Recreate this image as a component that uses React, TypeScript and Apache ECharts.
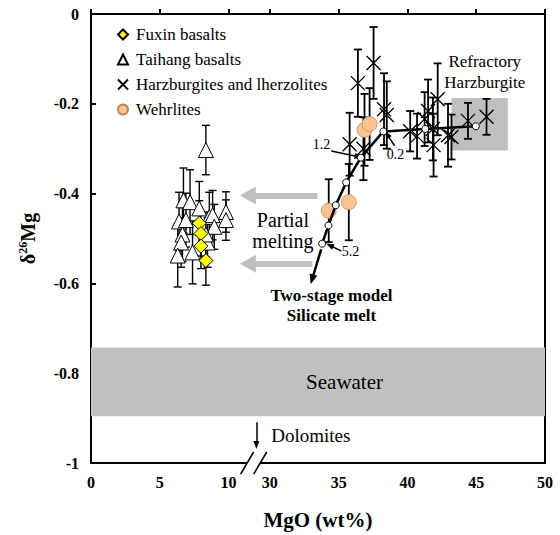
import React, { useEffect, useRef } from 'react';
import * as echarts from 'echarts';

// ---------- data ----------
const xTickLabels = [0, 5, 10, 30, 35, 40, 45, 50];
const yTicks = [0, -0.2, -0.4, -0.6, -0.8, -1];

const fuxinMgO = [7.87, 7.99, 7.99, 8.35];
const fuxinD26 = [-0.466, -0.489, -0.517, -0.549];
const fuxinErr = [0.05, 0.05, 0.05, 0.055];

const taihangMgO = [8.35, 6.72, 7.2, 6.4, 6.9, 6.65, 6.55, 6.3, 7.38, 7.87, 8.6, 8.84, 8.96, 8.47, 8.35, 9.81, 9.81];
const taihangD26 = [-0.303, -0.415, -0.419, -0.462, -0.459, -0.491, -0.509, -0.538, -0.531, -0.433, -0.452, -0.448, -0.474, -0.509, -0.491, -0.441, -0.459];
const taihangErr = [0.055, 0.072, 0.072, 0.065, 0.06, 0.06, 0.055, 0.07, 0.07, 0.06, 0.055, 0.055, 0.05, 0.055, 0.05, 0.045, 0.045];

const harzMgO = [37.54, 36.4, 38.3, 38.5, 35.8, 36.8, 40.2, 40.7, 41.5, 42.2, 41.25, 41.85, 41.9, 42.95, 43.2, 44.4, 45.75];
const harzD26 = [-0.109, -0.154, -0.212, -0.225, -0.29, -0.3, -0.261, -0.272, -0.216, -0.19, -0.234, -0.256, -0.292, -0.27, -0.274, -0.238, -0.229];
const harzErr = [0.08, 0.075, 0.08, 0.075, 0.07, 0.07, 0.045, 0.05, 0.07, 0.08, 0.06, 0.07, 0.07, 0.07, 0.05, 0.04, 0.04];

const wehrMgO = [34.28, 35.74, 36.88, 37.25];
const wehrD26 = [-0.438, -0.419, -0.258, -0.245];
const wehrErr = [0.07, 0.085, 0.08, 0.08];

const modelMgO = [33.8, 34.26, 34.79, 35.55, 36.61, 38.25, 41.3, 44.97];
const modelD26 = [-0.5115, -0.471, -0.426, -0.375, -0.32, -0.2615, -0.256, -0.25];

const seawaterRange = [-0.743, -0.896];
const refractoryMgO = [43.2, 47.3];
const refractoryD26 = [-0.187, -0.304];

// ---------- broken axis helpers ----------
const GAP = 17; // MgO 10..30 squeezed
const toAxis = (m: number) => (m > 20 ? m - GAP : m);
const toLabel = (u: number) => (u > 11.5 ? u + GAP : u);
const tickPos = xTickLabels.map(toAxis);

const FONT = 'Liberation Serif';

function errSeries(mgo: number[], d: number[], err: number[], lw: number) {
  return {
    type: 'custom',
    silent: true,
    z: 2,
    data: mgo.map((m, i) => [toAxis(m), d[i], err[i]]),
    encode: { x: 0, y: 1 },
    renderItem: (params: any, api: any) => {
      const x = api.value(0), y = api.value(1), e = api.value(2);
      const t = api.coord([x, y + e]);
      const b = api.coord([x, y - e]);
      const c = 4;
      const st = { stroke: '#000', lineWidth: lw };
      return {
        type: 'group',
        children: [
          { type: 'line', shape: { x1: t[0], y1: t[1], x2: b[0], y2: b[1] }, style: st },
          { type: 'line', shape: { x1: t[0] - c, y1: t[1], x2: t[0] + c, y2: t[1] }, style: st },
          { type: 'line', shape: { x1: b[0] - c, y1: b[1], x2: b[0] + c, y2: b[1] }, style: st },
        ],
      };
    },
  };
}

function arrowSeries(lines: number[][][], color: string, width: number, size: number[] | number) {
  return {
    type: 'line',
    data: [],
    silent: true,
    markLine: {
      silent: true,
      symbol: ['none', 'triangle'],
      symbolSize: size,
      label: { show: false },
      lineStyle: { color, width, type: 'solid' },
      emphasis: { disabled: true },
      data: lines.map((l) => [{ coord: l[0] }, { coord: l[1] }]),
    },
  };
}

const XPATH = 'path://M0,0L10,10M10,0L0,10';

export default function App() {
  const ref = useRef<HTMLDivElement>(null);
  useEffect(() => {
    document.body.style.margin = '0';
    const chart = echarts.init(ref.current!, null, { renderer: 'svg' });
    const option: any = {
      animation: false,
      textStyle: { fontFamily: FONT },
      grid: { left: 91, right: 15, top: 14, bottom: 62, show: true, borderColor: '#000', borderWidth: 2 },
      legend: {
        data: ['Fuxin basalts', 'Taihang basalts', 'Harzburgites and lherzolites', 'Wehrlites'],
        orient: 'vertical',
        left: 112,
        top: 21,
        itemWidth: 10,
        itemHeight: 10,
        itemGap: 8,
        textStyle: { fontFamily: FONT, fontSize: 17, color: '#000', padding: [0, 0, 0, 3] },
        selectedMode: false,
      },
      xAxis: {
        type: 'value',
        min: 0,
        max: 33,
        name: 'MgO (wt%)',
        nameLocation: 'middle',
        nameGap: 46,
        nameTextStyle: { fontFamily: FONT, fontSize: 21, fontWeight: 'bold', color: '#000' },
        axisLine: { lineStyle: { color: '#000', width: 2 } },
        axisTick: { inside: true, length: 5, lineStyle: { color: '#000', width: 2 }, customValues: tickPos },
        axisLabel: {
          customValues: tickPos,
          formatter: (v: number) => String(Math.round(toLabel(v))),
          fontFamily: FONT,
          fontSize: 16,
          fontWeight: 'bold',
          color: '#000',
          margin: 11,
        },
        splitLine: { show: false },
      },
      yAxis: {
        type: 'value',
        min: -1,
        max: 0,
        interval: 0.2,
        name: '{a|δ}{s|26}{a|Mg}',
        nameLocation: 'middle',
        nameGap: 52,
        nameRotate: 90,
        nameTextStyle: {
          rich: {
            a: { fontFamily: FONT, fontSize: 20, fontWeight: 'bold', color: '#000', lineHeight: 22 },
            s: { fontFamily: FONT, fontSize: 12, fontWeight: 'bold', color: '#000', verticalAlign: 'top', lineHeight: 22 },
          },
        },
        axisLine: { lineStyle: { color: '#000', width: 2 } },
        axisTick: { inside: true, length: 5, lineStyle: { color: '#000', width: 2 } },
        axisLabel: {
          formatter: (v: number) => (yTicks.includes(Math.round(v * 10) / 10) ? String(Math.round(v * 10) / 10) : ''),
          fontFamily: FONT,
          fontSize: 16,
          fontWeight: 'bold',
          color: '#000',
          margin: 12,
        },
        splitLine: { show: false },
      },
      series: [
        // background areas
        {
          type: 'line',
          data: [],
          silent: true,
          markArea: {
            silent: true,
            data: [
              [{ yAxis: seawaterRange[0], itemStyle: { color: '#c0c0c0' } }, { yAxis: seawaterRange[1] }],
              [
                { coord: [toAxis(refractoryMgO[0]), refractoryD26[0]], itemStyle: { color: '#bfbfbf' } },
                { coord: [toAxis(refractoryMgO[1]), refractoryD26[1]] },
              ],
            ],
          },
        },
        errSeries(taihangMgO, taihangD26, taihangErr, 1.4),
        errSeries(fuxinMgO, fuxinD26, fuxinErr, 1.4),
        errSeries(harzMgO, harzD26, harzErr, 1.8),
        errSeries(wehrMgO, wehrD26, wehrErr, 1.8),
        {
          name: 'Taihang basalts',
          type: 'scatter',
          symbol: 'triangle',
          symbolSize: 15,
          z: 3,
          itemStyle: { color: '#fff', borderColor: '#000', borderWidth: 1, opacity: 1 },
          data: taihangMgO.map((m, i) => [toAxis(m), taihangD26[i]]),
        },
        {
          name: 'Fuxin basalts',
          type: 'scatter',
          symbol: 'diamond',
          symbolSize: 14,
          z: 4,
          itemStyle: { color: '#ffff00', borderColor: '#000', borderWidth: 1, opacity: 1 },
          data: fuxinMgO.map((m, i) => [toAxis(m), fuxinD26[i]]),
        },
        {
          name: 'Harzburgites and lherzolites',
          type: 'scatter',
          symbol: XPATH,
          symbolSize: 14,
          z: 3,
          itemStyle: { color: 'rgba(0,0,0,0)', borderColor: '#000', borderWidth: 1.3, opacity: 1 },
          data: harzMgO.map((m, i) => [toAxis(m), harzD26[i]]),
        },
        {
          name: 'Wehrlites',
          type: 'scatter',
          symbol: 'circle',
          symbolSize: 15,
          z: 5,
          itemStyle: { color: '#fbc490', borderColor: '#c08860', borderWidth: 0.8, opacity: 1 },
          data: wehrMgO.map((m, i) => [toAxis(m), wehrD26[i]]),
        },
        {
          name: 'model',
          type: 'line',
          z: 6,
          symbol: 'circle',
          symbolSize: 7,
          itemStyle: { color: '#fff', borderColor: '#000', borderWidth: 1 },
          lineStyle: { color: '#000', width: 2.5 },
          data: modelMgO.map((m, i) => [toAxis(m), modelD26[i]]),
        },
        // model extension arrow
        { ...arrowSeries([[[16.73, -0.524], [16.07, -0.591]]], '#000', 2.5, [8, 10]), z: 6 },
        // small label arrows
        {
          ...arrowSeries(
            [
              [[17.46, -0.305], [19.45, -0.318]],
              [[22.07, -0.2935], [21.52, -0.268]],
              [[18.2, -0.528], [17.35, -0.515]],
              [[12.02, -0.909], [12.02, -0.96]],
            ],
            '#000',
            1.5,
            [6, 8]
          ),
          z: 6,
        },
        // grey partial-melting arrows
        {
          ...arrowSeries(
            [
              [[16.46, -0.404], [11.4, -0.404]],
              [[16.1, -0.5565], [11.4, -0.5565]],
            ],
            '#c0c0c0',
            6,
            [18, 16]
          ),
          z: 1,
        },
      ],
    };
    chart.setOption(option);

    const P = (u: number, v: number) => chart.convertToPixel({ gridIndex: 0 }, [u, v]) as number[];
    const texts = [
      { t: 'Refractory', u: 28.62, v: -0.1065, s: 17, b: false, a: 'center' },
      { t: 'Harzburgite', u: 28.62, v: -0.152, s: 17, b: false, a: 'center' },
      { t: 'Seawater', u: 18.43, v: -0.8196, s: 21, b: false, a: 'center' },
      { t: 'Dolomites', u: 13.1, v: -0.939, s: 19, b: false, a: 'left' },
      { t: 'Partial', u: 13.95, v: -0.4587, s: 20, b: false, a: 'center' },
      { t: 'melting', u: 13.95, v: -0.5065, s: 20, b: false, a: 'center' },
      { t: 'Two-stage model', u: 17.48, v: -0.626, s: 17, b: true, a: 'center' },
      { t: 'Silicate melt', u: 17.48, v: -0.672, s: 17, b: true, a: 'center' },
      { t: '1.2', u: 16.75, v: -0.291, s: 14, b: false, a: 'center' },
      { t: '0.2', u: 22.14, v: -0.313, s: 14, b: false, a: 'center' },
      { t: '5.2', u: 18.86, v: -0.53, s: 14, b: false, a: 'center' },
    ];
    const graphic: any[] = texts.map((d) => {
      const p = P(d.u, d.v);
      return {
        type: 'text',
        x: p[0],
        y: p[1],
        z: 100,
        style: {
          text: d.t,
          fontFamily: FONT,
          fontSize: d.s,
          fontWeight: d.b ? 'bold' : 'normal',
          fill: '#000',
          align: d.a,
          verticalAlign: 'middle',
        },
      };
    });
    // axis break marks
    const b1 = P(11.35, -1);
    const b2 = P(12.3, -1);
    const h = 11, dx = 6.5;
    graphic.push({
      type: 'polygon',
      z: 100,
      shape: {
        points: [
          [b1[0] - dx, b1[1] + h],
          [b1[0] + dx, b1[1] - h],
          [b2[0] + dx, b2[1] - h],
          [b2[0] - dx, b2[1] + h],
        ],
      },
      style: { fill: '#fff' },
    });
    [b1, b2].forEach((b) =>
      graphic.push({
        type: 'line',
        z: 101,
        shape: { x1: b[0] - dx, y1: b[1] + h, x2: b[0] + dx, y2: b[1] - h },
        style: { stroke: '#000', lineWidth: 1.5 },
      })
    );
    chart.setOption({ graphic });
    return () => chart.dispose();
  }, []);
  return <div ref={ref} style={{ width: 560, height: 535 }} />;
}
